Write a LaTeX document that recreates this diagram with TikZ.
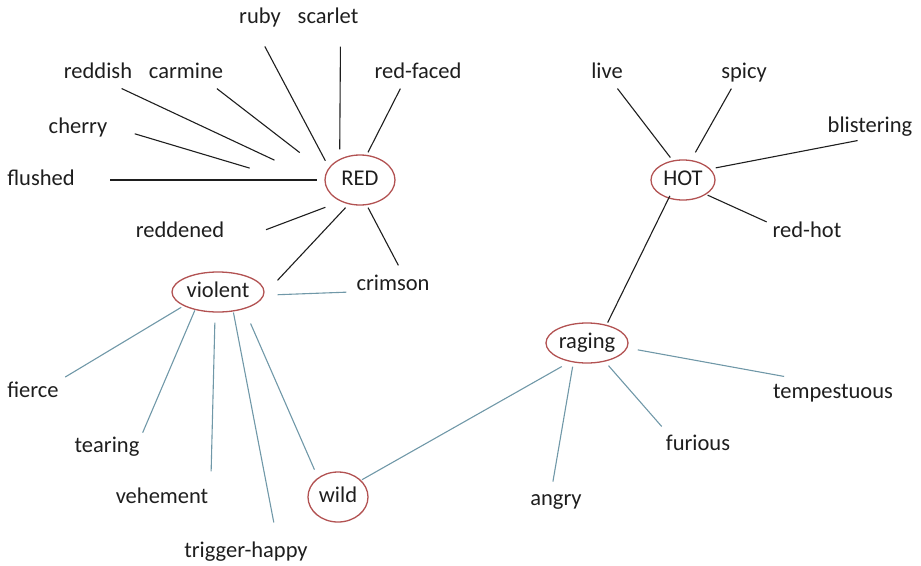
\documentclass[tikz,border=0pt]{standalone}
\usepackage{fontspec}
\setmainfont{Carlito}
\usetikzlibrary{shapes.geometric}
\definecolor{hubred}{RGB}{178,82,82}
\definecolor{linkgrey}{RGB}{112,152,168}
\definecolor{inkdark}{RGB}{30,30,30}
\begin{document}
\begin{tikzpicture}[x=1pt,y=-1pt,line width=1.1pt]
    \tikzstyle{word}=[inner sep=2pt,text height=15pt,text depth=5pt,text=inkdark,font=\fontsize{22.5}{27}\selectfont]
    \tikzstyle{hub}=[word,ellipse,draw=hubred,line width=1.3pt,inner sep=0pt]
    \useasboundingbox (0,0) rectangle (921,565);

    \node[hub,minimum width=70pt,minimum height=50pt] (RED) at (360,180) {RED};
    \node[hub,minimum width=92pt,minimum height=40pt] (violent) at (218,292) {violent};
    \node[hub,minimum width=60pt,minimum height=50pt] (wild) at (338,497) {wild};
    \node[hub,minimum width=82pt,minimum height=40pt] (raging) at (587,343) {raging};
    \node[hub,minimum width=64pt,minimum height=40pt] (HOT) at (683,180) {HOT};

    \foreach \name/\x/\y in {ruby/260/18, scarlet/328/18, reddish/98/73, carmine/186/73,
        red-faced/418/73, cherry/78/128, flushed/41/180, reddened/180/232, crimson/393/285,
        fierce/33/392, tearing/107/447, vehement/162/498, trigger-happy/246/552,
        live/607/73, spicy/744/73, blistering/870/127, red-hot/807/232,
        tempestuous/833/393, furious/698/445, angry/556/500}
            \node[word] (\name) at (\x,\y) {\name};

        % dark links
        \foreach \from/\fa/\to/\ta/\a/\b in {ruby/-106/RED/158/18/7.6, scarlet/-45/RED/134/16/9.5,
            red-faced/-142/RED/75/3.4/2.8, carmine/-25/RED/168/5/33, reddish/-36/RED/186/7/55.5,
            cherry/3/RED/200/26/82, flushed/0/RED/180/33/7.5, reddened/-15/RED/228/42/16.3,
            violent/-3/RED/245/19.3/4.5, crimson/54/RED/285/8/2.8,
            live/-57/HOT/118/3.8/3.7, spicy/-131/HOT/68/3.5/8.7, blistering/-120/HOT/22/5.2/5.3,
            red-hot/167/HOT/328/3.8/1.5, raging/43/HOT/232/2.5/-3}
            \draw[inkdark,shorten <=\a pt,shorten >=\b pt] (\from.\fa) -- (\to.\ta);

        % grey links
        \foreach \from/\fa/\to/\ta/\a/\b in {crimson/190/violent/-4/7.5/13.6,
            fierce/north east/violent/202/4.7/2.7, tearing/north east/violent/218/2/0.5,
            vehement/north east/violent/262/14/10, trigger-happy/22/violent/308/17.3/1,
            wild/136/violent/327/8.7/15.8, wild/36/raging/228/1/9.5,
            angry/108/raging/235/6/4.2, furious/158/raging/314/8/5.3,
            tempestuous/155/raging/353/22.3/10.5}
            \draw[linkgrey,shorten <=\a pt,shorten >=\b pt] (\from.\fa) -- (\to.\ta);
\end{tikzpicture}
\end{document}
